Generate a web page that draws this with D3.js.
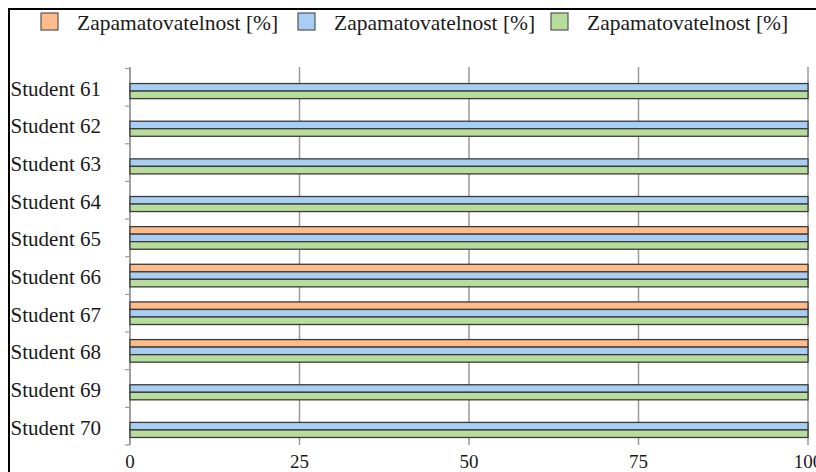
<!DOCTYPE html>
<html>
<head>
<meta charset="utf-8">
<script src="https://cdn.jsdelivr.net/npm/d3@7"></script>
<style>
  html, body { margin: 0; padding: 0; background: #fff; }
  svg { display: block; }
  text { font-family: "Liberation Serif", "Times New Roman", serif; fill: #1a1a1a; }
</style>
</head>
<body>
<svg id="chart" width="816" height="472"></svg>
<script>
const categories = ["Student 61","Student 62","Student 63","Student 64","Student 65","Student 66","Student 67","Student 68","Student 69","Student 70"];
const seriesNames = ["Zapamatovatelnost [%]","Zapamatovatelnost [%]","Zapamatovatelnost [%]"];
const seriesOrange = [null,null,null,null,100,100,100,100,null,null];
const seriesBlue   = [100,100,100,100,100,100,100,100,100,100];
const seriesGreen  = [100,100,100,100,100,100,100,100,100,100];
const xTicks = [0,25,50,75,100];
const colors = ["#FFBB8A","#A9CEF3","#B7DC9B"];

const allSeries = [seriesOrange, seriesBlue, seriesGreen];

const svg = d3.select("#chart");

// outer frame (cropped on right/bottom)
svg.append("rect")
  .attr("x", 9).attr("y", 9).attr("width", 900).attr("height", 600)
  .attr("fill", "none").attr("stroke", "#000").attr("stroke-width", 2);

const x = d3.scaleLinear().domain([0, 100]).range([130, 808]);
const y = d3.scaleBand().domain(categories).range([68.5, 445]).paddingInner(0).paddingOuter(0);
const sub = d3.scaleBand().domain([0,1,2]).range([y.bandwidth()*0.2, y.bandwidth()*0.8]);

// gridlines
svg.append("g").selectAll("line").data(xTicks).join("line")
  .attr("x1", d => x(d)).attr("x2", d => x(d))
  .attr("y1", 67).attr("y2", 445)
  .attr("stroke", "#9a9a9a").attr("stroke-width", 1.5);

// y axis line and ticks at band boundaries
const boundaries = categories.map(c => y(c)).concat([y.range()[1]]);
svg.append("line")
  .attr("x1", 130).attr("x2", 130).attr("y1", 67).attr("y2", 445)
  .attr("stroke", "#9a9a9a").attr("stroke-width", 1.5);
svg.append("g").selectAll("line").data(boundaries).join("line")
  .attr("x1", 125).attr("x2", 130)
  .attr("y1", d => d).attr("y2", d => d)
  .attr("stroke", "#9a9a9a").attr("stroke-width", 1.2);

// bars
allSeries.forEach((s, si) => {
  svg.append("g").selectAll("rect")
    .data(s.map((v, i) => ({v, c: categories[i]})).filter(d => d.v != null))
    .join("rect")
    .attr("x", x(0))
    .attr("y", d => y(d.c) + sub(si))
    .attr("width", d => x(d.v) - x(0))
    .attr("height", sub.bandwidth())
    .attr("fill", colors[si])
    .attr("stroke", "#3a3a3a")
    .attr("stroke-width", 1.3);
});

// category labels
svg.append("g").selectAll("text").data(categories).join("text")
  .attr("x", 101)
  .attr("y", d => y(d) + y.bandwidth()/2 + 8.5)
  .attr("text-anchor", "end")
  .attr("font-size", 21)
  .text(d => d);

// x tick labels
svg.append("g").selectAll("text").data(xTicks).join("text")
  .attr("x", d => x(d))
  .attr("y", 468)
  .attr("text-anchor", "middle")
  .attr("font-size", 19)
  .text(d => d);

// legend
const legendX = [41, 298, 551];
const leg = svg.append("g");
seriesNames.forEach((name, i) => {
  leg.append("rect")
    .attr("x", legendX[i]).attr("y", 13)
    .attr("width", 17).attr("height", 17)
    .attr("fill", colors[i])
    .attr("stroke", "#555").attr("stroke-width", 1.2);
  leg.append("text")
    .attr("x", legendX[i] + 36).attr("y", 30)
    .attr("font-size", 21.5)
    .text(name);
});
</script>
</body>
</html>
